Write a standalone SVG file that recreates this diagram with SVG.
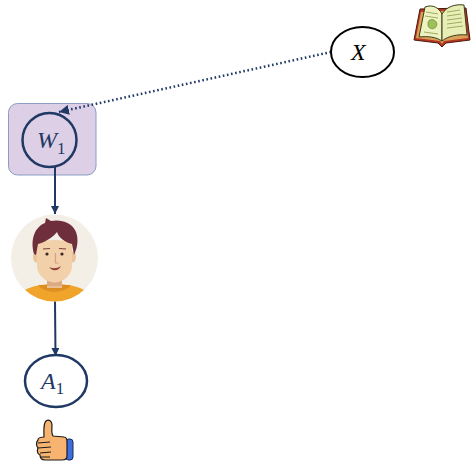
<svg xmlns="http://www.w3.org/2000/svg" width="472" height="462" viewBox="0 0 472 462">
  <style>
    .var { font-family: "Liberation Serif", "DejaVu Serif", serif; font-size: 24px; font-style: italic; fill: #1f3864; }
    .sub { font-size: 17px; font-style: normal; }
    .node { fill: #ffffff; stroke: #1f3864; stroke-width: 2.5; }
    .edge { fill: none; stroke: #1f3864; stroke-width: 2; }
    .dotted { fill: none; stroke: #1f3864; stroke-width: 2.5; stroke-dasharray: 1.6 2.6; }
  </style>
  <defs>
    <marker id="arrow" viewBox="0 0 10 10" refX="10" refY="5" markerWidth="8" markerHeight="8" markerUnits="userSpaceOnUse" orient="auto">
      <path d="M0,0 L10,5 L0,10 Z" fill="#1f3864"/>
    </marker>
    <marker id="arrowBig" viewBox="0 0 10 10" refX="10" refY="5" markerWidth="10" markerHeight="10" markerUnits="userSpaceOnUse" orient="auto">
      <path d="M0,0 L10,5 L0,10 Z" fill="#1f3864"/>
    </marker>
    <clipPath id="avatarClip">
      <circle cx="54.5" cy="258" r="43.5"/>
    </clipPath>
  </defs>

  <!-- W1 sits inside a shaded plate -->
  <g id="plate-W1">
    <rect x="8.5" y="103.5" width="87.5" height="71.5" rx="9" fill="#dccfe6" stroke="#8c9cc4" stroke-width="1"/>
  </g>

  <g id="connectors">
    <line class="dotted" x1="331" y1="52" x2="59" y2="112" marker-end="url(#arrowBig)"/>
    <line class="edge" x1="55" y1="167" x2="55" y2="214" marker-end="url(#arrow)"/>
    <line class="edge" x1="55" y1="301" x2="55.5" y2="356" marker-end="url(#arrow)"/>
  </g>

  <g id="node-X">
    <ellipse cx="362.5" cy="52" rx="31.5" ry="25" fill="#ffffff" stroke="#000000" stroke-width="2"/>
    <text class="var" x="351" y="60" style="fill:#000000">X</text>
  </g>

  <g id="node-W1">
    <ellipse cx="49.5" cy="140" rx="27" ry="27" fill="none" stroke="#1f3864" stroke-width="2.5"/>
    <text class="var" x="37" y="148">W<tspan class="sub" dy="6">1</tspan></text>
  </g>

  <g id="node-A1">
    <ellipse class="node" cx="56" cy="381" rx="31" ry="26"/>
    <text class="var" x="41" y="389">A<tspan class="sub" dy="5">1</tspan></text>
  </g>

  <!-- book icon next to X -->
  <g id="book">
    <path d="M420,9 L414,40 L438,43 L442,47 L446,43 L470,40 L466,8 Z" fill="#b8361f" stroke="#4a1a10" stroke-width="1"/>
    <path d="M421,12 L416,38 L440,41 L442,44 L444,41 L468,38 L464,10 Z" fill="#d9a25a"/>
    <path d="M425,7 C433,4 439,8 442,14 L442,41 C436,37 428,36 419,37 Z" fill="#eef2c0" stroke="#3e3a1a" stroke-width="1"/>
    <path d="M442,14 C447,6 456,4 464,5 L467,35 C458,34 448,36 442,41 Z" fill="#e8efb6" stroke="#3e3a1a" stroke-width="1"/>
    <path d="M426,12 L438,14 M425,16 L438,18 M447,12 L460,10 M447,16 L461,14 M447,20 L462,18 M447,24 L462,22 M447,28 L463,26 M424,32 L438,34" stroke="#8a9a4a" stroke-width="0.8" fill="none"/>
    <path d="M428,22 C430,18 436,19 437,24 C436,30 430,30 428,26 Z" fill="#9fbf5a" stroke="#5a7a2a" stroke-width="0.6"/>
  </g>

  <!-- avatar -->
  <g id="avatar">
    <circle cx="54.5" cy="258" r="43.5" fill="#f3eee6"/>
    <g clip-path="url(#avatarClip)">
      <path d="M12,302 C18,290 34,284 54.5,284 C75,284 91,290 97,302 L97,306 L12,306 Z" fill="#f0a52a"/>
      <path d="M38,285 C44,294 65,294 71,285 Z" fill="#dd8d1e"/>
      <rect x="47" y="274" width="15" height="14" fill="#e9bf95"/>
      <path d="M47,277 L62,281 L62,286 L47,286 Z" fill="#dcaa82"/>
      <path d="M40,286 C45,293 64,293 69,286 C64,291 45,291 40,286 Z" fill="#e0922a"/>
    </g>
    <ellipse cx="36.5" cy="257" rx="3.5" ry="5.5" fill="#eac49c"/>
    <ellipse cx="72.5" cy="257" rx="3.5" ry="5.5" fill="#eac49c"/>
    <path d="M37,246 C37,238 72,238 72,246 L72,266 C72,276 62,282.5 54.5,282.5 C47,282.5 37,276 37,266 Z" fill="#f1d0aa"/>
    <path d="M34,254 C30,239 35,227 45,223 L46,218 L51,221 C60,219 72,222 76,232 C79,240 77,249 74,255 L72,244 C65,242 59,238 57,232 C52,238 45,242 38,244 L36,255 Z" fill="#6e2e3b"/>
    <path d="M43,249 L50,248.5 M59,248.5 L66,249" stroke="#7a4038" stroke-width="1.2" fill="none"/>
    <circle cx="47" cy="254" r="1.6" fill="#3a2424"/>
    <circle cx="62" cy="254" r="1.6" fill="#3a2424"/>
    <path d="M55.5,253 L55.5,263 L58.5,263" stroke="#d3a27e" stroke-width="1.2" fill="none"/>
    <path d="M49.5,267 C53,269 57,268.5 61,266 C59,271 52,272 49.5,267 Z" fill="#8c3d3a"/>
  </g>

  <!-- thumbs-up icon under A1 -->
  <g id="thumb">
    <rect x="65.5" y="439" width="7.5" height="21" rx="3" fill="#3b6fe0" stroke="#1a2a5a" stroke-width="1"/>
    <path d="M44,437 C44,430 43,424 46,421 C49,419 52,421 52,425 C52,429 51,433 53,436 L64,437 C67,437 67,440 67,442 L67,456 C67,459 65,460 62,460 L45,460 C42,460 40,458 40,455 C37,454 37,450 38,448 C36,446 36,442 38,440 C38,438 41,437 44,437 Z" fill="#f7b470" stroke="#1a1a1a" stroke-width="1.2"/>
    <path d="M38,443 L50,442 M38,448 L51,447 M40,453 L51,452 M40,457 L50,457" stroke="#1a1a1a" stroke-width="1" fill="none"/>
  </g>
</svg>
